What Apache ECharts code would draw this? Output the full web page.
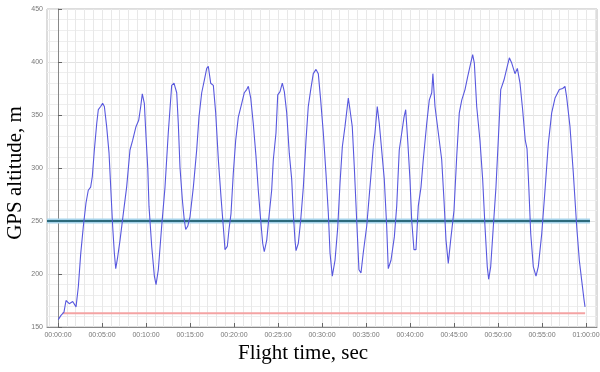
<!DOCTYPE html>
<html>
<head>
<meta charset="utf-8">
<script src="https://cdn.jsdelivr.net/npm/echarts@6/dist/echarts.min.js"></script>
<style>html,body{margin:0;padding:0;background:#fff}#c{width:600px;height:372px}</style>
</head>
<body>
<div id="c"></div>
<script>
// Flight time in minutes
const flightTimeMin = [0.03,0.34,0.68,0.91,1.28,1.67,2.05,2.31,2.58,2.88,3.18,3.44,3.71,3.9,4.13,4.4,4.58,4.85,5.07,5.27,5.53,5.8,5.99,6.21,6.4,6.56,6.78,7.05,7.42,7.8,8.18,8.48,8.86,9.17,9.4,9.58,9.81,10.0,10.2,10.34,10.65,10.95,11.14,11.4,11.78,12.16,12.53,12.92,13.18,13.49,13.67,13.86,14.13,14.35,14.51,14.74,15.0,15.38,15.76,16.02,16.33,16.63,16.9,17.08,17.35,17.65,17.92,18.22,18.52,18.78,18.98,19.24,19.43,19.66,19.92,20.19,20.49,20.88,21.17,21.44,21.63,21.9,22.19,22.5,22.76,23.03,23.26,23.44,23.72,24.01,24.28,24.47,24.77,24.97,25.23,25.49,25.72,25.99,26.28,26.56,26.74,26.93,27.05,27.31,27.58,27.88,28.18,28.44,28.72,29.01,29.32,29.58,29.85,30.15,30.45,30.72,30.91,31.17,31.48,31.78,32.05,32.31,32.61,32.99,33.18,33.44,33.67,33.94,34.2,34.43,34.69,35.08,35.45,35.83,36.02,36.28,36.51,36.78,37.08,37.35,37.53,37.84,38.22,38.49,38.78,39.06,39.32,39.51,39.74,40.0,40.19,40.45,40.68,40.94,41.25,41.51,41.9,42.19,42.47,42.6,42.84,43.22,43.6,43.86,44.09,44.35,44.62,45.0,45.31,45.6,45.88,46.25,46.55,46.9,47.12,47.31,47.58,47.95,48.26,48.52,48.78,48.94,49.17,49.47,49.77,50.03,50.31,50.68,51.06,51.29,51.56,51.93,52.2,52.5,52.8,53.1,53.3,53.5,53.72,54.01,54.32,54.58,54.97,55.34,55.72,56.1,56.48,56.97,57.35,57.61,57.8,58.18,58.56,58.94,59.24,59.51,59.77,59.89];
// GPS altitude, m
const gpsAltitude = [157,161,164,175,172,174,169,188,219,245,267,279,282,292,317,342,355,358,361,358,339,314,282,245,220,205,216,232,257,282,317,326,339,345,358,370,361,330,300,264,226,198,190,204,245,282,333,378,380,371,342,301,270,251,242,245,254,282,317,348,371,383,394,396,380,378,352,308,273,245,223,226,242,257,295,326,348,361,371,374,377,366,342,311,279,251,229,221,232,257,279,308,333,369,372,380,372,352,314,289,257,232,222,229,251,282,326,358,374,389,393,389,364,333,295,257,220,198,213,243,286,320,339,366,355,339,301,251,204,201,220,245,282,320,333,358,342,317,289,245,205,213,235,264,317,333,348,355,326,289,251,223,223,264,282,308,342,364,371,389,358,333,308,270,232,210,232,260,311,352,364,374,386,399,407,399,358,326,289,245,207,195,207,245,282,326,374,383,396,404,399,389,394,380,355,326,318,282,238,207,198,207,238,279,323,352,366,374,375,377,367,339,295,245,213,194,176,169];
// Reference levels
const tealLevel = 250;
const tealSpan = [-1.25, 60.45];
const redLevel = 163;
const redSpan = [0.5, 59.9];
// Axes
const xTickValues = [0,5,10,15,20,25,30,35,40,45,50,55,60];
const xTickLabels = ['00:00:00','00:05:00','00:10:00','00:15:00','00:20:00','00:25:00','00:30:00','00:35:00','00:40:00','00:45:00','00:50:00','00:55:00','01:00:00'];
const xGridMinutes = [-1,0,1,2,3,4,5,6,7,8,9,10,11,12,13,14,15,16,17,18,19,20,21,22,23,24,25,26,27,28,29,30,31,32,33,34,35,36,37,38,39,40,41,42,43,44,45,46,47,48,49,50,51,52,53,54,55,56,57,58,59,60,61];
const xMin = -1.25, xMax = 61.25;
const yMin = 150, yMax = 450, yStep = 50;

const altData = flightTimeMin.map((t, i) => [t, gpsAltitude[i]]);
const teal = tealSpan.map(t => [t, tealLevel]);
const red = redSpan.map(t => [t, redLevel]);

const chart = echarts.init(document.getElementById('c'), null, {renderer: 'canvas'});
const serif = 'Liberation Serif';
chart.setOption({
  animation: false,
  backgroundColor: '#fff',
  grid: {left: 47, right: 3, top: 9, bottom: 45, containLabel: false, outerBoundsMode: 'none',
         show: true, borderColor: '#bbb', borderWidth: 1},
  xAxis: [{
    type: 'value', min: xMin, max: xMax,
    name: 'Flight time, sec', nameLocation: 'middle', nameGap: 16, nameMoveOverlap: false,
    nameTextStyle: {fontFamily: serif, fontSize: 21, color: '#000', padding: [0, 38, 0, 0]},
    axisLine: {show: true, onZero: false, lineStyle: {color: '#888'}},
    axisTick: {show: true, inside: true, length: 4, customValues: xTickValues, lineStyle: {color: '#666'}},
    axisLabel: {customValues: xTickValues, fontSize: 7, color: '#777', margin: 5, fontFamily: 'Liberation Sans',
      formatter: v => xTickLabels[xTickValues.indexOf(Math.round(v))] || ''},
    splitLine: {show: false}
  }, {
    type: 'value', min: xMin, max: xMax, position: 'bottom',
    axisLine: {show: false}, axisLabel: {show: false},
    axisTick: {show: false, customValues: xGridMinutes},
    splitLine: {show: true, customValues: xGridMinutes, lineStyle: {color: '#e8e8e8', width: 1}}
  }],
  yAxis: {
    type: 'value', min: yMin, max: yMax, interval: yStep,
    name: 'GPS altitude, m', nameLocation: 'middle', nameGap: 21, nameRotate: 90, nameMoveOverlap: false,
    nameTextStyle: {fontFamily: serif, fontSize: 21, color: '#000', padding: [0, 10, 0, 0]},
    axisLine: {show: true, lineStyle: {color: '#888'}},
    axisTick: {show: true, inside: true, length: 4, lineStyle: {color: '#666'}},
    axisLabel: {fontSize: 7, color: '#777', margin: 4, fontFamily: 'Liberation Sans'},
    splitLine: {show: true, lineStyle: {color: '#e3e3e3'}},
    minorTick: {show: false, splitNumber: 5},
    minorSplitLine: {show: true, lineStyle: {color: '#eeeeee'}}
  },
  series: [
    {type: 'line', xAxisIndex: 0, data: red, symbol: 'none', lineStyle: {color: '#f4a3a3', width: 2}, z: 2},
    {type: 'line', xAxisIndex: 0, data: teal, symbol: 'none', lineStyle: {color: '#a6d3ea', width: 5}, z: 3},
    {type: 'line', xAxisIndex: 0, data: teal, symbol: 'none', lineStyle: {color: '#2d6b7c', width: 2}, z: 4},
    {type: 'line', xAxisIndex: 0, data: altData, symbol: 'none', lineStyle: {color: '#5858de', width: 1.1}, z: 5}
  ]
});
</script>
</body>
</html>
